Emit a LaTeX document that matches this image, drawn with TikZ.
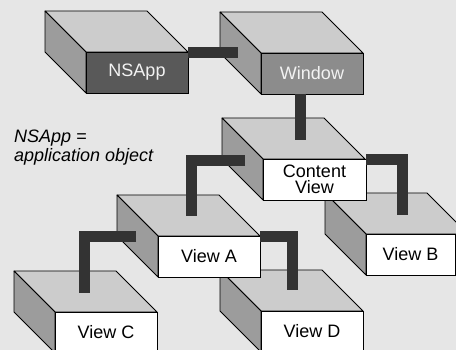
\documentclass[tikz,border=0pt]{standalone}
\usepackage{fontspec}
\setmainfont{Liberation Sans}
\usetikzlibrary{calc}
\definecolor{bgc}{HTML}{E6E6E6}
\definecolor{topc}{HTML}{CCCCCC}
\definecolor{sidec}{HTML}{9C9C9C}
\definecolor{darkc}{HTML}{595959}
\definecolor{midc}{HTML}{8C8C8C}
\definecolor{barc}{HTML}{333333}
\definecolor{lighttext}{HTML}{F2F2F2}
\tikzset{
  topf/.style={fill=topc, draw=black, line width=0.8pt, line join=round},
  sidef/.style={fill=sidec, draw=black, line width=0.8pt, line join=round},
  frontf/.style={draw=black, line width=0.8pt, fill=white, minimum width=102pt,
    minimum height=41pt, inner sep=0pt, outer sep=0pt, anchor=north west,
    align=center, font=\fontsize{18}{16}\selectfont},
  bar/.style={draw=barc, line width=11pt, line cap=butt, line join=miter},
  note/.style={font=\fontsize{18}{19}\selectfont\itshape, align=left,
    inner sep=0pt, anchor=north west}
}
\newcommand\cubebox[5]{%
  \filldraw[topf] (#2,#3) -- ++(-41,-41) -- ++(102,0) -- ++(41,41) -- cycle;
  \filldraw[sidef] (#2,#3) -- ++(-41,-41) -- ++(0,41) -- ++(41,41) -- cycle;
  \node[frontf, #4] (#1) at (#2,#3) {#5};
}
\begin{document}
\begin{tikzpicture}[x=1pt, y=-1pt]
  \useasboundingbox (0,0) rectangle (456,350);
  \clip (0,0) rectangle (456,350);
  \fill[bgc] (0,0) rectangle (456,350);
  % boxes, back to front
  \cubebox{nsapp}{86}{52}{fill=darkc, text=lighttext}{NSApp}
  \cubebox{window}{261}{53}{fill=midc, text=lighttext}{Window}
  \cubebox{viewb}{366}{234}{minimum width=89pt}{View B}
  \cubebox{content}{263}{159}{minimum width=103pt}{Content\\View}
  \cubebox{viewd}{261}{311}{}{View D}
  \cubebox{viewc}{55}{312}{}{View C}
  \cubebox{viewa}{158}{236}{}{View A}
  % note
  \node[note] (note) at (14,130) {NSApp =\\application object};
  % connectors
  \draw[bar] ($(nsapp.north east)+(0,0.5)$) -- ($(window.north west)+(-23,-0.5)$);
  \draw[bar] ($(window.south west)+(39.5,0)$) -- ($(content.north west)+(37.5,-19)$);
  \draw[bar] ($(content.north west)+(-18,1.5)$) -| ($(viewa.north west)+(33.5,-19.5)$);
  \draw[bar] ($(content.north east)+(0,0.5)$) -| ($(viewb.north west)+(36,-19)$);
  \draw[bar] ($(viewa.north west)+(-22,1)$) -| ($(viewc.north west)+(29.5,-19)$);
  \draw[bar] ($(viewa.north east)+(0,0.5)$) -| ($(viewd.north west)+(31.5,-21)$);
\end{tikzpicture}
\end{document}
